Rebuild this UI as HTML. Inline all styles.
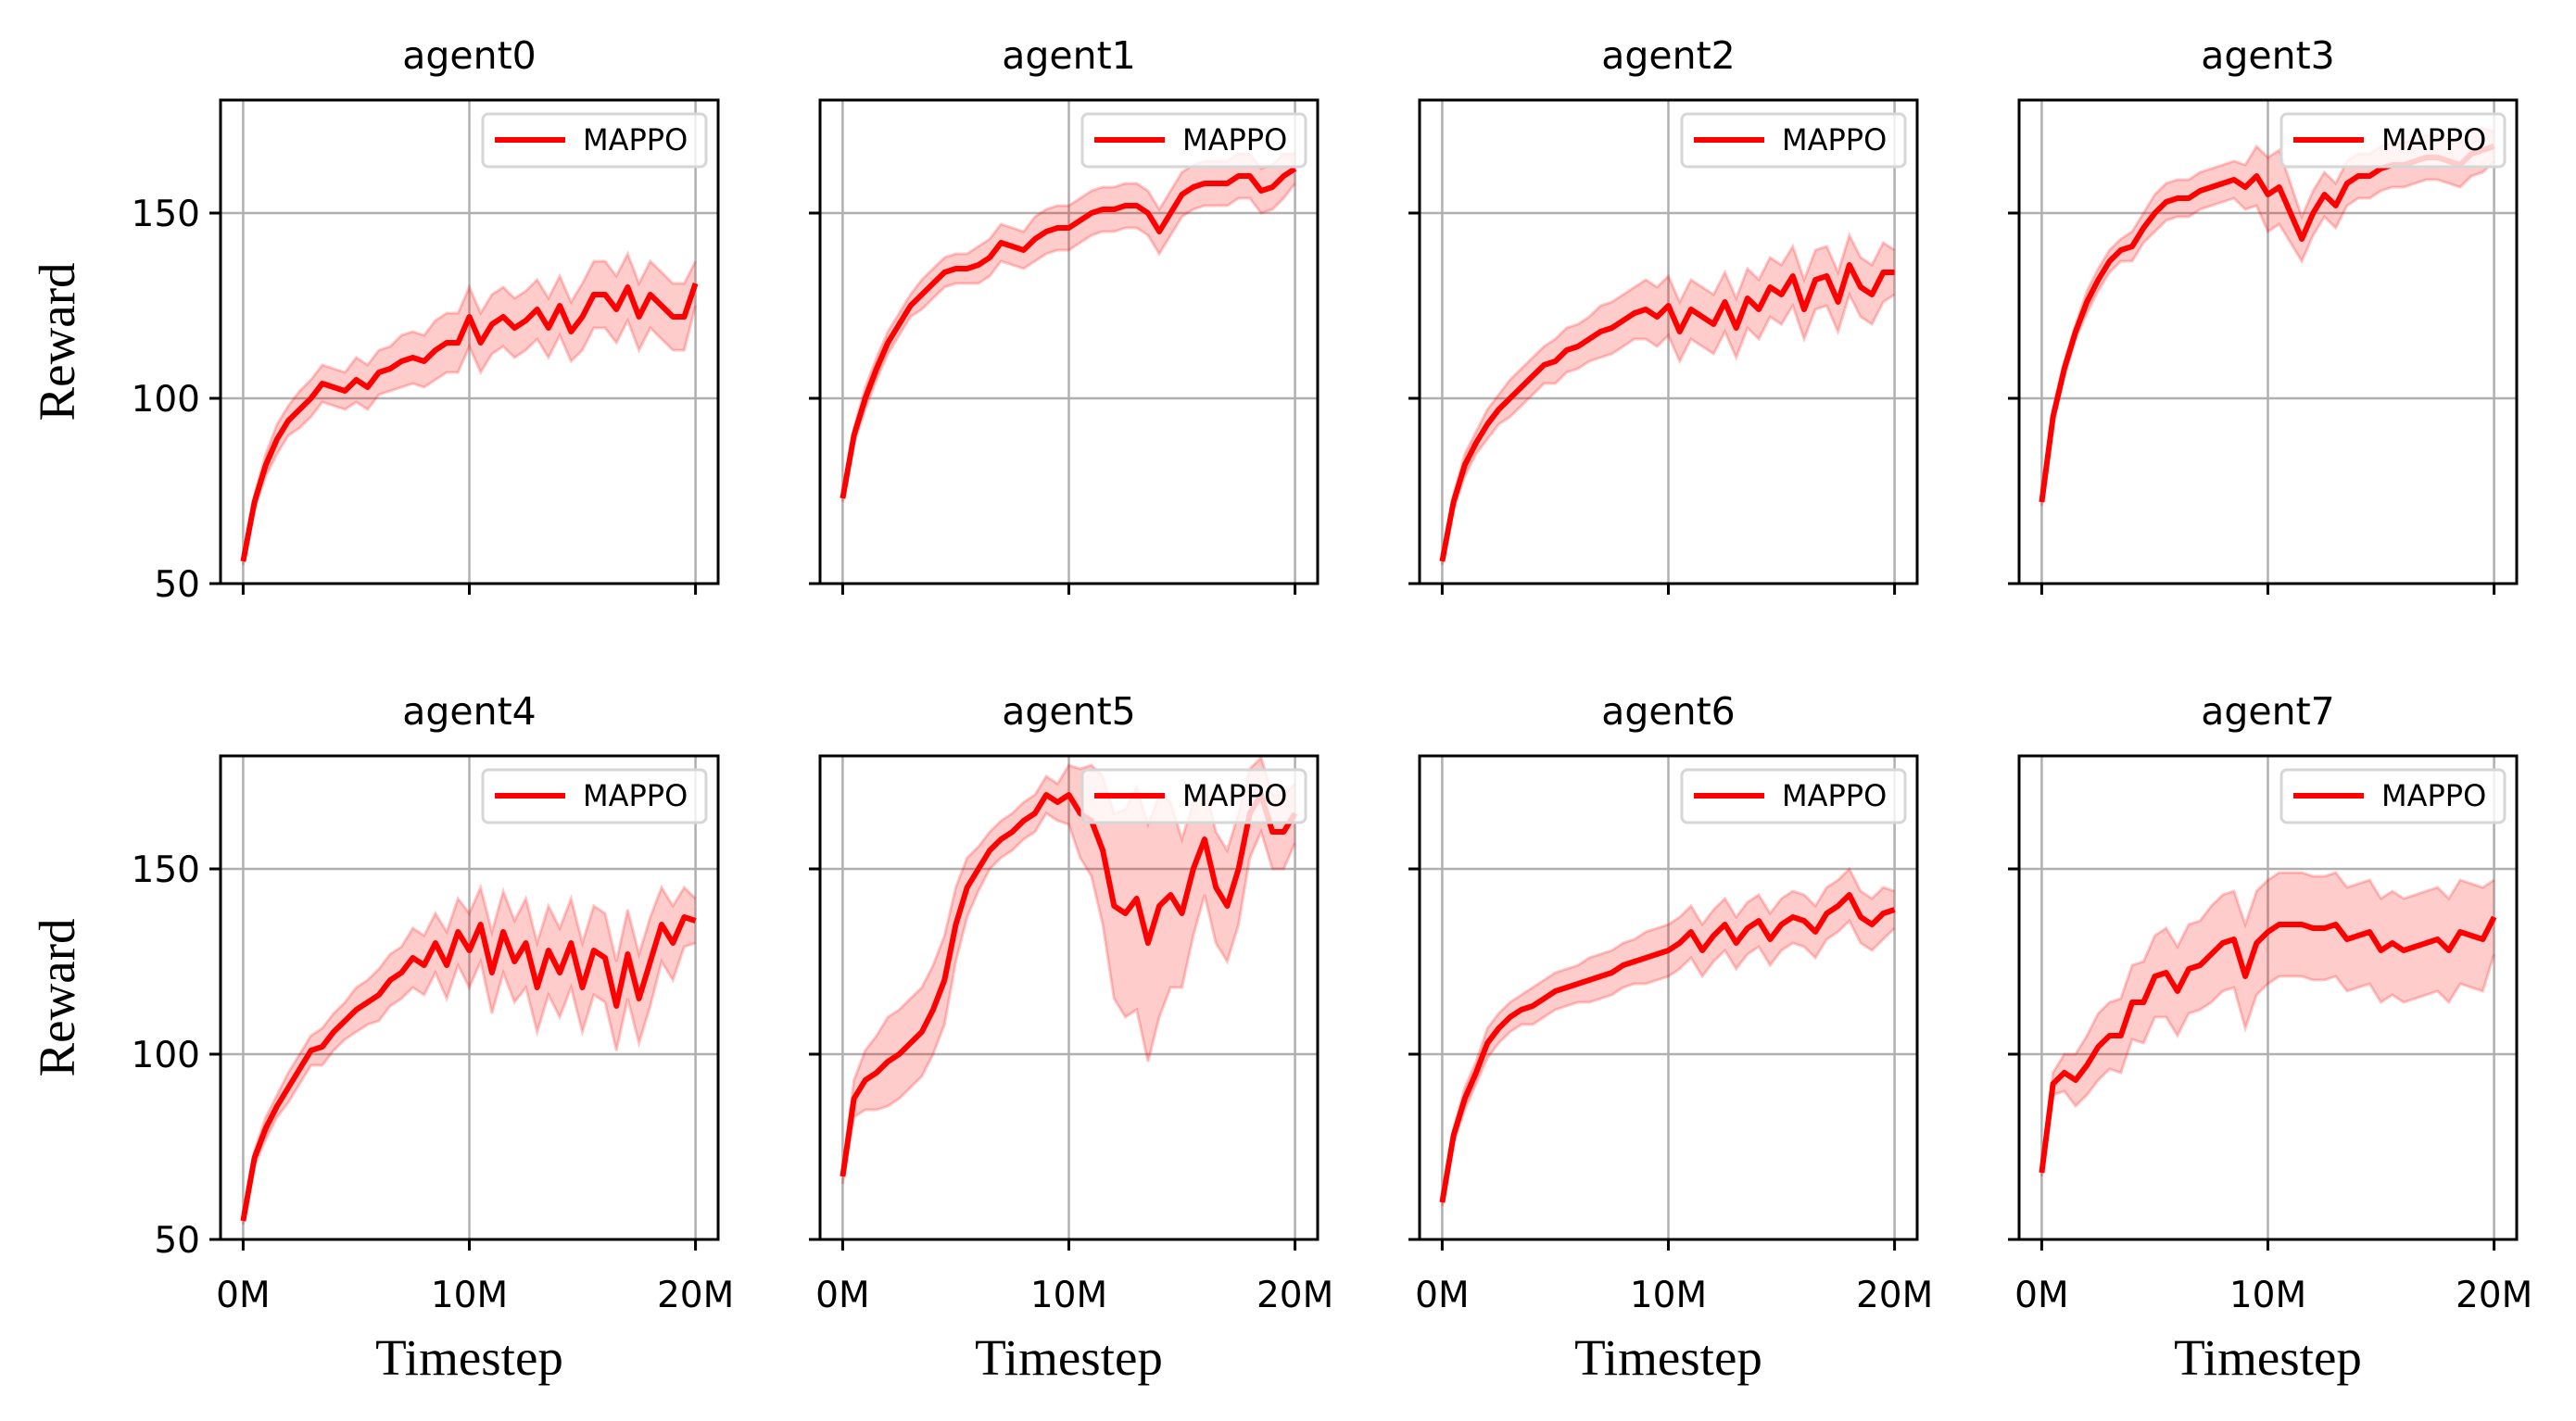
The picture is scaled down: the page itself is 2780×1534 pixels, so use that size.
<!DOCTYPE html>
<html><head><meta charset="utf-8"><style>
html,body{margin:0;padding:0;background:#fff}
svg{display:block}
</style></head><body>
<svg id="fig" width="2780" height="1534" viewBox="0 0 2780 1534" xmlns="http://www.w3.org/2000/svg"></svg>
<script>
const xs = [];
for (let i = 0; i <= 40; i++) xs.push(i * 0.5);
const titles = ["agent0","agent1","agent2","agent3","agent4","agent5","agent6","agent7"];
const yTicks = [50,100,150];
const xTicks = [0,10,20];
const xTickLabels = ["0M","10M","20M"];
const mean0 = [56,72,82,89,94,97,100,104,103,102,105,103,107,108,110,111,110,113,115,115,122,115,120,122,119,121,124,119,125,118,122,128,128,124,130,122,128,125,122,122,131];
const mean1 = [73,90,100,108,115,120,125,128,131,134,135,135,136,138,142,141,140,143,145,146,146,148,150,151,151,152,152,150,145,150,155,157,158,158,158,160,160,156,157,160,162];
const mean2 = [56,72,82,88,93,97,100,103,106,109,110,113,114,116,118,119,121,123,124,122,125,118,124,122,120,126,119,127,124,130,128,133,124,132,133,126,136,130,128,134,134];
const mean3 = [72,95,108,118,126,132,137,140,141,146,150,153,154,154,156,157,158,159,157,160,155,157,150,143,150,155,152,158,160,160,162,163,163,164,165,165,164,163,166,167,168];
const mean4 = [55,72,80,86,91,96,101,102,106,109,112,114,116,120,122,126,124,130,124,133,128,135,122,133,125,130,118,128,122,130,118,128,126,113,127,115,125,135,130,137,136];
const mean5 = [67,88,93,95,98,100,103,106,112,120,135,145,150,155,158,160,163,165,170,168,170,165,163,155,140,138,142,130,140,143,138,150,158,145,140,150,165,170,160,160,165];
const mean6 = [60,78,88,95,103,107,110,112,113,115,117,118,119,120,121,122,124,125,126,127,128,130,133,128,132,135,130,134,136,131,135,137,136,133,138,140,143,137,135,138,139];
const mean7 = [68,92,95,93,97,102,105,105,114,114,121,122,117,123,124,127,130,131,121,130,133,135,135,135,134,134,135,131,132,133,128,130,128,129,130,131,128,133,132,131,137];
const spread0 = [1,2,3,4,4,5,5,5,5,5,6,6,6,6,7,7,7,8,8,8,8,8,8,8,8,8,8,8,8,8,9,9,9,9,9,9,9,9,9,9,6];
const spread1 = [1,2,3,3,3,3,3,4,4,4,4,4,5,5,5,5,5,6,6,6,6,6,6,6,6,6,6,6,6,6,6,6,6,6,6,6,6,6,6,6,4];
const spread2 = [1,2,3,3,4,4,5,5,5,5,6,6,6,6,7,7,7,7,8,8,8,8,8,8,8,8,8,8,8,8,8,8,8,8,8,8,8,8,8,8,6];
const spread3 = [1,2,2,2,3,3,3,3,4,4,5,5,5,5,5,5,5,5,6,8,10,10,8,6,6,6,6,6,6,6,6,6,6,6,6,6,6,6,6,6,4];
const spread4 = [1,2,3,3,4,4,4,5,5,5,6,6,7,7,7,8,8,8,9,9,10,10,11,11,11,12,12,12,12,12,12,12,12,12,12,12,12,10,10,8,6];
const spread5 = [2,5,8,10,12,12,12,12,12,12,10,8,6,5,5,5,5,5,5,5,8,12,15,20,25,28,30,32,30,25,20,18,15,15,15,15,12,10,10,10,8];
const spread6 = [1,2,3,3,4,4,4,4,5,5,5,5,5,6,6,6,6,6,7,7,7,7,7,7,7,7,7,7,7,7,7,7,7,7,7,7,7,7,7,7,5];
const spread7 = [1,3,5,7,8,9,9,10,10,11,11,12,12,12,12,13,13,13,14,14,14,14,14,14,14,14,14,14,14,14,14,14,14,14,14,14,14,14,14,14,10];
const means = [mean0,mean1,mean2,mean3,mean4,mean5,mean6,mean7];
const spreads = [spread0,spread1,spread2,spread3,spread4,spread5,spread6,spread7];

const NS = "http://www.w3.org/2000/svg";
const svg = document.getElementById("fig");
function mk(tag, attrs, parent){const e=document.createElementNS(NS,tag);for(const k in attrs)e.setAttribute(k,attrs[k]);(parent||svg).appendChild(e);return e;}
const colL = [238,885,1532,2179], W = 537;
const rowT = [108,816], H = 522;
const XMIN=-1, XMAX=21, YMIN=50, YMAX=180.5;

for (let p=0;p<8;p++){
  const r=Math.floor(p/4), c=p%4;
  const L=colL[c], T=rowT[r];
  const sx=v=>L+(v-XMIN)/(XMAX-XMIN)*W;
  const sy=v=>T+H-(v-YMIN)/(YMAX-YMIN)*H;
  const g=mk("g",{});
  
  
  const clipId="clip"+p;
  const cp=mk("clipPath",{id:clipId},g);
  mk("rect",{x:L,y:T,width:W,height:H},cp);
  yTicks.forEach(v=>{const ln=mk("line",{x1:L,x2:L+W,y1:sy(v),y2:sy(v),stroke:"#b0b0b0","stroke-width":2.5},g);
    });
  xTicks.forEach(v=>{const ln=mk("line",{x1:sx(v),x2:sx(v),y1:T,y2:T+H,stroke:"#b0b0b0","stroke-width":2.5},g);
    });
  const dg=mk("g",{"clip-path":"url(#"+clipId+")"},g);
  const m=means[p], s=spreads[p];
  let up=[],lo=[];
  for(let i=0;i<xs.length;i++){up.push(sx(xs[i]).toFixed(1)+","+sy(m[i]+s[i]).toFixed(1));lo.push(sx(xs[i]).toFixed(1)+","+sy(m[i]-s[i]).toFixed(1));}
  const band=mk("polygon",{points:up.concat(lo.slice().reverse()).join(" "),fill:"rgba(255,0,0,0.2)",stroke:"none"},dg);
  
  const ub=mk("polyline",{points:up.join(" "),fill:"none",stroke:"rgba(255,0,0,0.22)","stroke-width":3},dg);
  
  const lb=mk("polyline",{points:lo.join(" "),fill:"none",stroke:"rgba(255,0,0,0.22)","stroke-width":3},dg);
  
  const pts=xs.map((x,i)=>sx(x).toFixed(1)+","+sy(m[i]).toFixed(1)).join(" ");
  const ml=mk("polyline",{points:pts,fill:"none",stroke:"#ff0000","stroke-width":6,"stroke-linejoin":"round"},dg);
  
  const fr=mk("rect",{x:L,y:T,width:W,height:H,fill:"none",stroke:"#000","stroke-width":3},g);
  
  yTicks.forEach(v=>{const t=mk("line",{x1:L-12,x2:L,y1:sy(v),y2:sy(v),stroke:"#000","stroke-width":3},g);
    
    if(c===0){const tx=mk("text",{x:L-22,y:sy(v)+14,"text-anchor":"end","font-size":39,"font-family":"DejaVu Sans, sans-serif",fill:"#000"},g);
      tx.textContent=v;}});
  xTicks.forEach((v,i)=>{const t=mk("line",{x1:sx(v),x2:sx(v),y1:T+H,y2:T+H+12,stroke:"#000","stroke-width":3},g);
    
    if(r===1){const tx=mk("text",{x:sx(v),y:T+H+73,"text-anchor":"middle","font-size":39,"font-family":"DejaVu Sans, sans-serif",fill:"#000"},g);
      tx.textContent=xTickLabels[i];}});
  const tt=mk("text",{x:L+W/2,y:T-34,"text-anchor":"middle","font-size":41,"font-family":"DejaVu Sans, sans-serif",fill:"#000"},g);
  tt.textContent=titles[p];
  const lg=mk("g",{},g);
  
  mk("rect",{x:L+283,y:T+15,width:241,height:57,rx:6,fill:"rgba(255,255,255,0.8)",stroke:"#d6d6d6","stroke-width":3},lg);
  const ll=mk("line",{x1:L+296,x2:L+372,y1:T+43,y2:T+43,stroke:"#ff0000","stroke-width":6},lg);
  
  const lt=mk("text",{x:L+391,y:T+54,"font-size":32,"font-family":"DejaVu Sans, sans-serif",fill:"#000"},lg);
  lt.textContent="MAPPO";
  if(c===0){const yl=mk("text",{x:0,y:0,transform:"translate(80,"+(T+H/2)+") rotate(-90)","text-anchor":"middle","font-size":55,"font-family":"Liberation Serif, serif",fill:"#000"},g);
    yl.textContent="Reward";}
  if(r===1){const xl=mk("text",{x:L+W/2,y:1484,"text-anchor":"middle","font-size":55,"font-family":"Liberation Serif, serif",fill:"#000"},g);
    xl.textContent="Timestep";}
}
</script>
</body></html>
